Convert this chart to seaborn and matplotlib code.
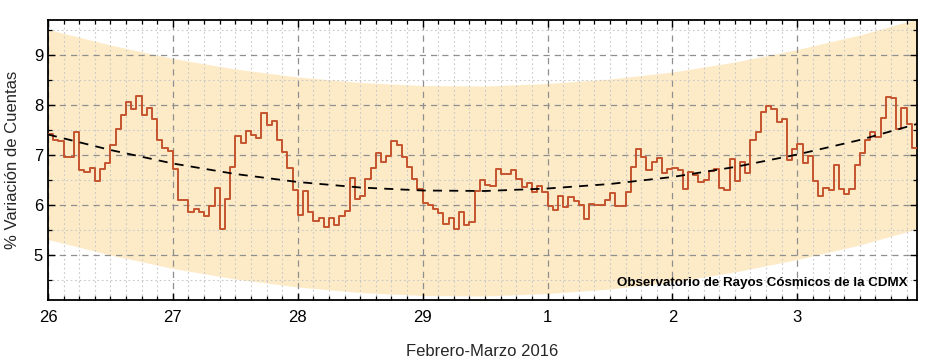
import numpy as np
import pandas as pd
import matplotlib
matplotlib.use("Agg")
import matplotlib.pyplot as plt
from matplotlib.ticker import MultipleLocator, FixedLocator
import seaborn as sns

# Hourly % variation of counts, starting 26 Feb 2016 00h
counts = [
    7.43, 7.31, 7.28, 6.97, 6.97, 7.47, 6.70, 6.67, 6.75, 6.49, 6.73, 6.85,
    7.20, 7.52, 7.80, 8.07, 7.93, 8.19, 7.81, 7.95, 7.72, 7.31, 7.15, 7.08,
    6.72, 6.10, 6.10, 5.87, 5.93, 5.87, 5.79, 5.99, 6.35, 5.53, 6.13, 6.77,
    7.38, 7.25, 7.48, 7.41, 7.35, 7.85, 7.61, 7.69, 7.30, 7.07, 6.75, 6.31,
    5.80, 6.29, 5.87, 5.68, 5.75, 5.57, 5.75, 5.60, 5.79, 5.89, 6.55, 6.12,
    6.19, 6.52, 6.75, 7.05, 6.87, 6.99, 7.29, 7.21, 6.97, 6.77, 6.52, 6.32,
    6.05, 6.00, 5.92, 5.85, 5.62, 5.75, 5.53, 5.87, 5.60, 5.66, 6.28, 6.51,
    6.40, 6.39, 6.73, 6.63, 6.63, 6.70, 6.53, 6.37, 6.45, 6.27, 6.38, 6.27,
    5.98, 5.91, 6.18, 5.97, 6.17, 6.08, 6.00, 5.73, 6.03, 6.00, 6.00, 6.10,
    6.25, 5.98, 5.98, 6.27, 6.77, 7.12, 6.97, 6.71, 6.87, 6.95, 6.65, 6.72,
    6.75, 6.70, 6.33, 6.67, 6.60, 6.47, 6.50, 6.69, 6.73, 6.35, 6.31, 6.93,
    6.49, 6.87, 6.65, 7.31, 7.47, 7.87, 7.99, 7.92, 7.67, 7.72, 6.90, 7.13,
    7.23, 6.85, 6.98, 6.49, 6.19, 6.35, 6.30, 6.81, 6.32, 6.22, 6.32, 6.80,
    7.05, 7.30, 7.47, 7.37, 7.75, 8.17, 8.15, 7.52, 7.95, 7.62, 7.15,
]

# Trend curve and band, sampled every half day (days since 26 Feb 00h)
trend_days = [0.0, 0.5, 1.0, 1.5, 2.0, 2.5, 3.0, 3.5, 4.0, 4.5, 5.0, 5.5, 6.0, 6.5, 7.0]
trend_vals = [7.41, 7.10, 6.83, 6.62, 6.46, 6.35, 6.29, 6.28, 6.33, 6.42, 6.56, 6.76, 7.01, 7.30, 7.65]
band_upper = [9.51, 9.20, 8.93, 8.72, 8.56, 8.45, 8.39, 8.38, 8.43, 8.52, 8.66, 8.86, 9.11, 9.40, 9.75]
band_lower = [5.31, 5.00, 4.73, 4.52, 4.36, 4.25, 4.19, 4.18, 4.23, 4.32, 4.46, 4.66, 4.91, 5.20, 5.55]

tick_days = [0, 1, 2, 3, 4, 5, 6]
tick_labels = ["26", "27", "28", "29", "1", "2", "3"]

sns.set_theme(style="white")
plt.rcParams["font.family"] = ["Liberation Sans", "DejaVu Sans"]

n = len(counts)
hours_x = np.arange(n + 1) / 24.0
df = pd.DataFrame({"t": hours_x, "v": counts + [counts[-1]]})
df_trend = pd.DataFrame({"t": trend_days, "v": trend_vals})

fig = plt.figure(figsize=(9.29, 3.62), dpi=100)
ax = fig.add_axes([48 / 929, 1 - 300 / 362, (917 - 48) / 929, (300 - 20) / 362])
ax.set_axisbelow("line")

ax.fill_between(trend_days, band_lower, band_upper, color="#FDEBC7", lw=0, zorder=1)
sns.lineplot(data=df, x="t", y="v", ax=ax, drawstyle="steps-post",
             color="#C4532E", lw=1.4, zorder=3)
sns.lineplot(data=df_trend, x="t", y="v", ax=ax, color="black", lw=1.3,
             dashes=False, zorder=4)
ax.lines[-1].set_dashes([5, 4])

ax.set_xlim(0, n / 24.0)
ax.set_ylim(4.1, 9.7)

ax.xaxis.set_major_locator(FixedLocator(tick_days))
ax.set_xticklabels(tick_labels)
ax.xaxis.set_minor_locator(MultipleLocator(3 / 24))
ax.yaxis.set_major_locator(MultipleLocator(1))
ax.yaxis.set_minor_locator(MultipleLocator(0.5))

ax.grid(which="major", color="#8f8f8f", ls=(0, (5, 4)), lw=0.9)
ax.grid(which="minor", color="#c8c8c8", ls=(0, (1.5, 2.5)), lw=0.8)

ax.tick_params(which="both", direction="in", top=True, right=True,
               bottom=True, left=True, colors="black", labelsize=12)
ax.tick_params(which="major", length=5, width=1)
ax.tick_params(which="minor", length=3, width=0.9)
ax.tick_params(axis="x", pad=7)
for s in ax.spines.values():
    s.set_color("black")
    s.set_linewidth(1.3)

ax.set_xlabel("Febrero-Marzo 2016", fontsize=12, labelpad=14)
ax.set_ylabel("% Variación de Cuentas", fontsize=12, labelpad=10)

ax.text(0.989, 0.04, "Observatorio de Rayos Cósmicos de la CDMX",
        transform=ax.transAxes, ha="right", va="bottom",
        fontsize=9.6, fontweight="bold", color="black", zorder=5)

fig.savefig("out.png", dpi=100)
